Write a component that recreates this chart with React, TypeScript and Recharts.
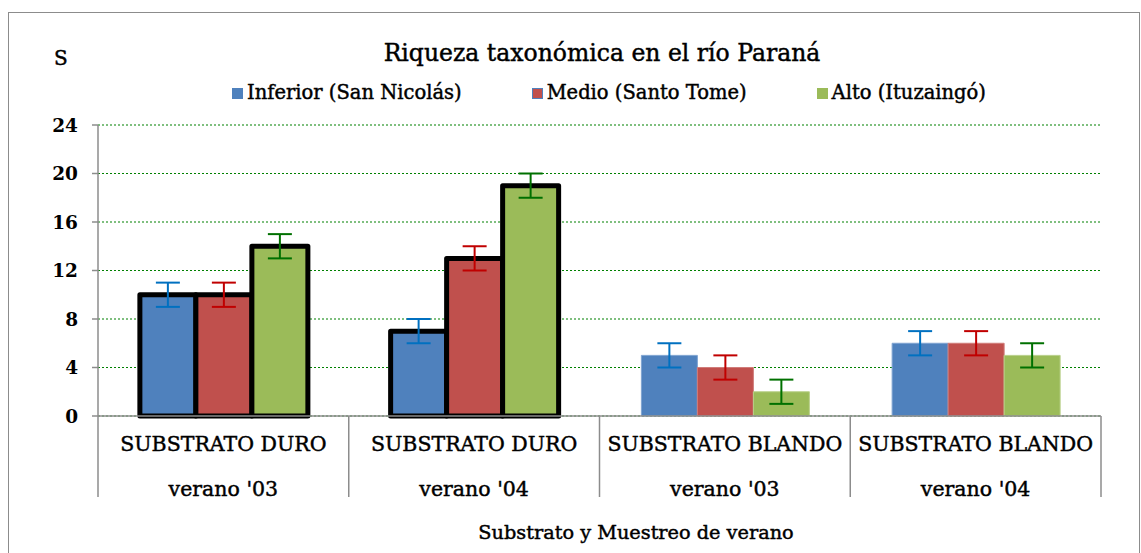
import React from 'react';
import { BarChart, Bar, XAxis, YAxis, CartesianGrid, ErrorBar, Cell } from 'recharts';

const substrates = ['SUBSTRATO DURO', 'SUBSTRATO DURO', 'SUBSTRATO BLANDO', 'SUBSTRATO BLANDO'];
const seasons = ["verano '03", "verano '04", "verano '03", "verano '04"];
const inferior = [10, 7, 5, 6];
const medio = [10, 13, 4, 6];
const alto = [14, 19, 2, 5];
const inferiorErr = [1, 1, 1, 1];
const medioErr = [1, 1, 1, 1];
const altoErr = [1, 1, 1, 1];
const yTicks = [0, 4, 8, 12, 16, 20, 24];

const series = [
  { key: 'inferior', name: 'Inferior (San Nicolás)', fill: '#4F81BD', err: '#0070C0', edge: '#7FA3D1' },
  { key: 'medio', name: 'Medio (Santo Tome)', fill: '#C0504D', err: '#C00000', edge: '#D07C7A' },
  { key: 'alto', name: 'Alto (Ituzaingó)', fill: '#9BBB59', err: '#007000', edge: '#B9D08A' },
];

const data = substrates.map((s, i) => ({
  id: String(i),
  inferior: inferior[i],
  medio: medio[i],
  alto: alto[i],
  inferiorErr: inferiorErr[i],
  medioErr: medioErr[i],
  altoErr: altoErr[i],
}));

const W = 1141;
const H = 553;
const margin = { top: 125, right: 40, bottom: 56, left: 38 };
const yAxisWidth = 60;
const xAxisHeight = 81;
const plotW = W - margin.left - margin.right - yAxisWidth;
const band = plotW / substrates.length;
const FONT = '"DejaVu Serif", serif';
const heavy = { WebkitTextStroke: '0.45px #000' } as React.CSSProperties;

const CategoryTick = ({ x, y, payload }: any) => {
  const i = Number(payload.value);
  const half = band / 2;
  return (
    <g>
      <line x1={x - half} x2={x - half} y1={y} y2={y + xAxisHeight} stroke="#8c8c8c" strokeWidth={1.5} />
      {i === substrates.length - 1 && (
        <line x1={x + half} x2={x + half} y1={y} y2={y + xAxisHeight} stroke="#8c8c8c" strokeWidth={1.5} />
      )}
      <text x={x} y={y + 35} textAnchor="middle" fontSize={20.5} fill="#000" stroke="#000" strokeWidth={0.45} fontFamily={FONT}>
        {substrates[i]}
      </text>
      <text x={x} y={y + 80} textAnchor="middle" fontSize={20.5} fill="#000" stroke="#000" strokeWidth={0.45} fontFamily={FONT}>
        {seasons[i]}
      </text>
    </g>
  );
};

const LegendBox = () => (
  <div
    style={{
      position: 'absolute',
      top: 82,
      left: 232,
      display: 'flex',
      gap: 70,
      fontFamily: FONT,
      fontSize: 19.5,
      color: '#000',
      lineHeight: '22px',
      whiteSpace: 'nowrap',
      ...heavy,
    }}
  >
    {series.map((s) => (
      <div key={s.key} style={{ display: 'flex', alignItems: 'center' }}>
        <span
          style={{
            width: 11,
            height: 11,
            background: s.fill,
            boxSizing: 'border-box',
            border: s.key === 'medio' ? '1.5px solid #4F81BD' : 'none',
            marginRight: 4,
            display: 'inline-block',
            WebkitTextStroke: '0',
          }}
        />
        <span>{s.name}</span>
      </div>
    ))}
  </div>
);

export default function App() {
  return (
    <div style={{ position: 'absolute', left: 0, top: 0, width: W, height: H, background: '#fff', overflow: 'hidden' }}>
      <div
        style={{
          position: 'absolute',
          left: 8,
          top: 12,
          width: 1130,
          height: 560,
          border: '1.5px solid #8c8c8c',
        }}
      />
      <div style={{ position: 'absolute', left: 54, top: 46, fontFamily: FONT, fontSize: 20, color: '#000', ...heavy }}>S</div>
      <div
        style={{
          position: 'absolute',
          left: 0,
          width: 1204,
          top: 39,
          textAlign: 'center',
          fontFamily: FONT,
          fontSize: 23.5,
          color: '#000',
          ...heavy,
        }}
      >
        Riqueza taxonómica en el río Paraná
      </div>
      <div
        style={{
          position: 'absolute',
          left: 0,
          width: 1272,
          top: 521,
          textAlign: 'center',
          fontFamily: FONT,
          fontSize: 19.3,
          color: '#000',
          ...heavy,
        }}
      >
        Substrato y Muestreo de verano
      </div>
      <LegendBox />
      <div style={{ position: 'absolute', left: 0, top: 0 }}>
        <BarChart width={W} height={H} data={data} margin={margin} barCategoryGap="16.7%" barGap={0}>
          <CartesianGrid vertical={false} stroke="#008000" strokeDasharray="2 2" strokeWidth={1.2} />
          <XAxis
            dataKey="id"
            height={xAxisHeight}
            tick={<CategoryTick />}
            tickLine={false}
            tickSize={0}
            tickMargin={0}
            axisLine={{ stroke: '#8c8c8c', strokeWidth: 1.5 }}
            interval={0}
          />
          <YAxis
            width={yAxisWidth}
            domain={[0, 24]}
            ticks={yTicks}
            interval={0}
            tickSize={6}
            tickMargin={14}
            tickLine={{ stroke: '#8c8c8c', strokeWidth: 1.5 }}
            axisLine={{ stroke: '#8c8c8c', strokeWidth: 1.5 }}
            tick={{ fill: '#000', fontSize: 18.5, fontWeight: 'bold', fontFamily: FONT }}
          />
          {series.map((s) => (
            <Bar key={s.key} dataKey={s.key} name={s.name} fill={s.fill} isAnimationActive={false}>
              {data.map((d, i) => {
                const hard = substrates[i].includes('DURO');
                return (
                  <Cell
                    key={d.id}
                    fill={s.fill}
                    stroke={hard ? '#000' : s.edge}
                    strokeWidth={hard ? 5 : 1}
                    strokeLinejoin="round"
                  />
                );
              })}
              <ErrorBar dataKey={`${s.key}Err`} direction="y" width={12} stroke={s.err} strokeWidth={2} />
            </Bar>
          ))}
        </BarChart>
      </div>
    </div>
  );
}
